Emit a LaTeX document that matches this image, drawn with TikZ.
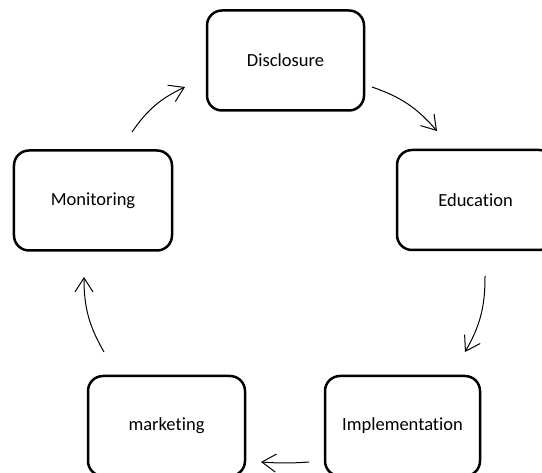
\documentclass[tikz,border=0pt]{standalone}
\usepackage{fontspec}
\setmainfont{Carlito}[Ligatures=NoCommon]
\usetikzlibrary{arrows.meta}
\begin{document}
\begin{tikzpicture}[x=1bp,y=1bp,
  stagebox/.style={draw=black, line width=2.5bp, rounded corners=15bp, fill=white,
    minimum width=157bp, minimum height=100bp, inner sep=0pt,
    font=\fontsize{18.5bp}{22bp}\selectfont},
  cyclearrow/.style={draw=black, line width=1bp, -{Straight Barb[length=14bp,width=18bp,line width=1bp]}, bend left=15}
]
\useasboundingbox (0,0) rectangle (542,473);
\clip (0,0) rectangle (542,473);
\node[stagebox] (disc) at (285.5,412.5) {Disclosure};
\node[stagebox] (edu) at (475.5,273) {Education};
\node[stagebox, minimum width=158bp] (mon) at (93,272.5) {Monitoring};
\node[stagebox] (mkt) at (166.5,47) {marketing};
\node[stagebox, minimum width=155bp] (impl) at (402.5,47) {Implementation};
\coordinate (a5s) at (132,341);
\coordinate (a5e) at (185,386);
\coordinate (a1s) at (372,386);
\coordinate (a1e) at (437,342);
\coordinate (a2s) at (485,197);
\coordinate (a2e) at (465,121);
\coordinate (a3s) at (309,11);
\coordinate (a3e) at (261,11);
\coordinate (a4s) at (104,121);
\coordinate (a4e) at (84,196);
\draw[cyclearrow] (a1s) to (a1e);
\draw[cyclearrow] (a2s) to (a2e);
\draw[cyclearrow, bend left=4] (a3s) to (a3e);
\draw[cyclearrow] (a4s) to (a4e);
\draw[cyclearrow] (a5s) to (a5e);
\end{tikzpicture}
\end{document}
